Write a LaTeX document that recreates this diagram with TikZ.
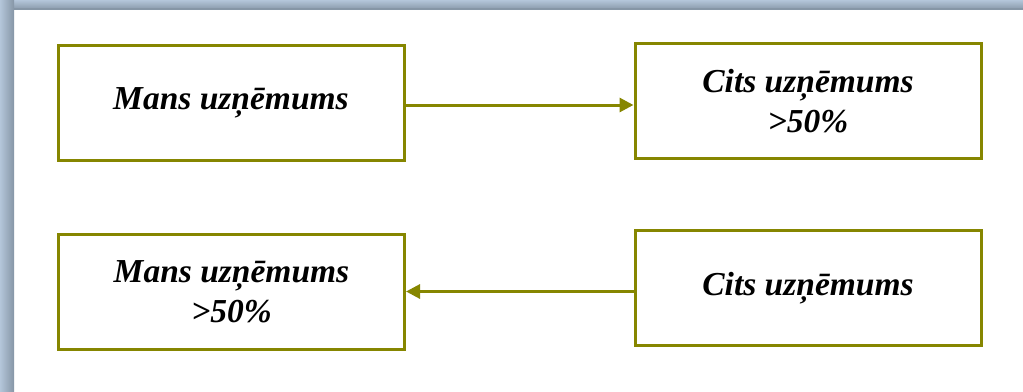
\documentclass[tikz,border=0pt]{standalone}
\usepackage{fontspec}
\setmainfont{Liberation Serif}[BoldItalicFont={Liberation Serif Bold Italic}]
\usetikzlibrary{arrows.meta}
\definecolor{olivebox}{RGB}{134,134,0}
\definecolor{frameA}{RGB}{180,198,218}
\definecolor{frameB}{RGB}{134,150,166}
\tikzset{
  firm/.style={draw=olivebox, line width=3pt, minimum width=346pt, minimum height=115pt,
    inner sep=0pt, align=center, font=\fontsize{33.5}{40}\selectfont\bfseries\itshape},
  conn/.style={draw=olivebox, line width=3pt, -{Triangle[length=14pt,width=14pt]}}
}
\begin{document}
\begin{tikzpicture}[x=1pt,y=-1pt]
\useasboundingbox (0,0) rectangle (1023,391);
\fill[white] (0,0) rectangle (1023,391);
% frame
\shade[top color=frameA, bottom color=frameB!90!frameA] (0,0) rectangle (1023,9);
\shade[left color=frameA, right color=frameB] (0,0) rectangle (14,391);
\fill[frameB] (14,7.5) rectangle (1023,9.5);
% boxes
\node[firm] (A) at (231,103.3) {Mans uzņēmums};
\node[firm] (B) at (808,101.3) {Cits uzņēmums\\>50\%};
\node[firm] (C) at (231.5,291.5) {Mans uzņēmums\\>50\%};
\node[firm] (D) at (808,287.8) {Cits uzņēmums};
% connectors
\draw[conn] ([yshift=-1.7pt]A.east) -- ([yshift=-1.7pt]A.east -| B.west);
\draw[conn] (D.west |- C.east) -- (C.east);
\end{tikzpicture}
\end{document}
